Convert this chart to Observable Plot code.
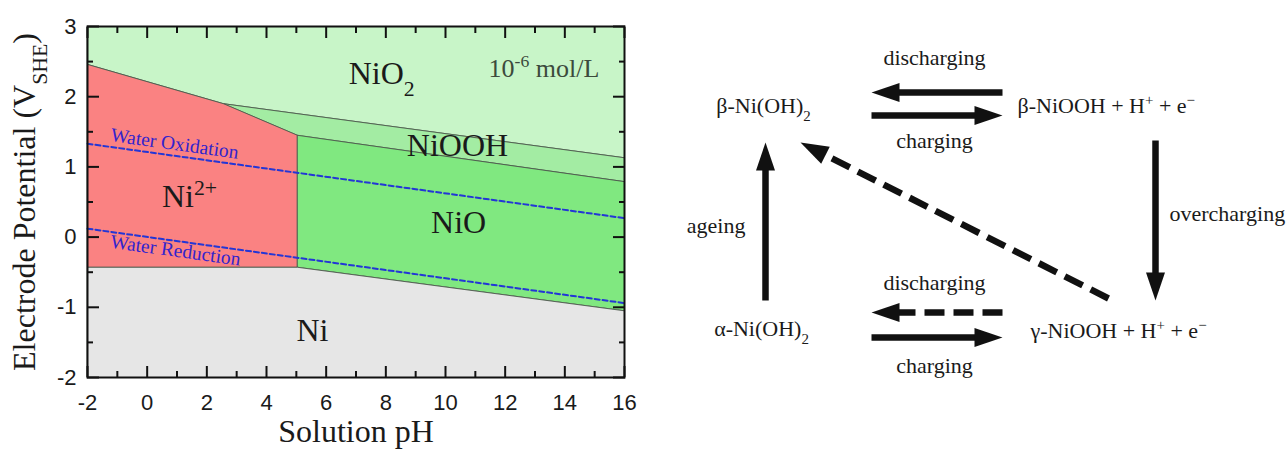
<!DOCTYPE html>
<html><head><meta charset="utf-8">
<script src="https://cdn.jsdelivr.net/npm/d3@7"></script>
<script src="https://cdn.jsdelivr.net/npm/@observablehq/plot@0.6"></script>
<style>
html,body{margin:0;padding:0;background:#fff;}
#wrap{display:flex;width:1287px;height:453px;overflow:hidden;}
#wrap svg{display:block;flex:none;}
</style></head><body><div id="wrap"></div>
<script>
// ---------- Pourbaix diagram data ----------
const phases = ["NiO2", "NiOOH", "Ni2+", "NiO", "Ni"];
const phaseColors = ["#c8f5c8", "#a3eca3", "#fa8282", "#80e880", "#e6e6e6"];
const phasePH = [[-2, 16, 16, 2.56, -2], [2.56, 16, 16, 5.04], [-2, 2.56, 5.04, 5.04, -2], [5.04, 16, 16, 5.04], [-2, 5.04, 16, 16, -2]];
const phaseE = [[3, 3, 1.13, 1.90, 2.46], [1.90, 1.13, 0.79, 1.45], [2.46, 1.90, 1.45, -0.43, -0.43], [1.45, 0.79, -1.05, -0.43], [-0.43, -0.43, -1.05, -2, -2]];
const phaseLabels = ["NiO_{2}", "NiOOH", "Ni^{2+}", "NiO", "Ni"];
const labelPH = [7.86, 10.40, 1.42, 10.44, 5.54];
const labelE = [2.32, 1.30, 0.58, 0.21, -1.34];
const waterPH = [-2, 16];
const waterOx = [1.33, 0.27];
const waterRed = [0.12, -0.94];
const waterNames = ["Water Oxidation", "Water Reduction"];
const waterLabelPH = [0.92, 0.95];
const waterLabelE = [1.33, -0.19];
const concLabel = ["10^{-6} mol/L"];
const concPH = [13.3];
const concE = [2.40];
const xMajor = [-2, 0, 2, 4, 6, 8, 10, 12, 14, 16];
const xMinor = [-1, 1, 3, 5, 7, 9, 11, 13, 15];
const yMajor = [-2, -1, 0, 1, 2, 3];
const yMinor = [-1.5, -0.5, 0.5, 1.5, 2.5];
const xTitle = "Solution pH";
const yTitle = "Electrode Potential (V_{SHE})";

// ---------- Cycle diagram data (diagram units) ----------
const nodeNames = ["β-Ni(OH)_{2}", "β-NiOOH + H^{+} + e^{−}", "α-Ni(OH)_{2}", "γ-NiOOH + H^{+} + e^{−}"];
const nodeX = [113, 367, 111, 380];
const nodeY = [105, 105, 328, 330];
const nodeAnchor = ["middle", "start", "middle", "start"];
const stepNames = ["discharging", "charging", "overcharging", "ageing", "discharging", "charging"];
const stepX = [284, 284, 519, 95, 284, 284];
const stepY = [57, 140, 213, 225, 282, 365];
const stepAnchor = ["middle", "middle", "start", "end", "middle", "middle"];
const arrowFromX = [352, 221, 505, 115, 458, 352, 221];
const arrowFromY = [92, 115, 140, 300, 298, 312, 337];
const arrowToX = [221, 352, 505, 115, 150, 221, 352];
const arrowToY = [92, 115, 300, 142, 142, 312, 337];
const arrowDashed = [false, false, false, false, true, true, false];

// ---------- helpers ----------
const serif = "'Liberation Serif','Times New Roman',serif";
const sans = "'Liberation Sans',Arial,sans-serif";

function richify(svg) {
  svg.querySelectorAll("text").forEach(t => {
    if (t.children.length) return;
    const s = t.textContent;
    if (!/[_^]\{/.test(s)) return;
    t.textContent = "";
    for (const part of s.split(/([_^]\{[^}]*\})/)) {
      if (!part) continue;
      const m = part.match(/^([_^])\{([^}]*)\}$/);
      const ts = document.createElementNS("http://www.w3.org/2000/svg", "tspan");
      ts.textContent = m ? m[2] : part;
      if (m) {
        ts.setAttribute("font-size", "68%");
        ts.setAttribute("baseline-shift", m[1] === "_" ? "sub" : "super");
      }
      t.appendChild(ts);
    }
  });
}

// ---------- left: Pourbaix diagram ----------
const W1 = 650, H = 453, mL = 87, mR = 26, mT = 26, mB = 76;
const pxPerPH = (W1 - mL - mR) / (xMajor[xMajor.length - 1] - xMajor[0]);
const pxPerV = (H - mT - mB) / (yMajor[yMajor.length - 1] - yMajor[0]);
const waterSlope = (waterOx[1] - waterOx[0]) / (waterPH[1] - waterPH[0]);
const waterAngle = Math.atan(-waterSlope * pxPerV / pxPerPH) * 180 / Math.PI;

const polyRows = phases.flatMap((p, i) => phasePH[i].map((x, j) => ({phase: p, ph: x, e: phaseE[i][j]})));
const waterRows = [waterOx, waterRed].flatMap((arr, k) => waterPH.map((x, j) => ({k, ph: x, e: arr[j]})));

const tickStyle = {stroke: "#111", strokeWidth: 2, fill: "none", label: null};

const left = Plot.plot({
  width: W1, height: H,
  marginLeft: mL, marginRight: mR, marginTop: mT, marginBottom: mB,
  x: {domain: [xMajor[0], xMajor[xMajor.length - 1]]},
  y: {domain: [yMajor[0], yMajor[yMajor.length - 1]]},
  style: {fontFamily: sans, fontSize: "22px", background: "white", color: "#1a1a1a", overflow: "visible"},
  marks: [
    ...phases.map((p, i) => Plot.line(polyRows.filter(d => d.phase === p), {
      x: "ph", y: "e", fill: phaseColors[i], stroke: "#4d5a4d", strokeWidth: 0.9, curve: "linear-closed"
    })),
    Plot.line(waterRows, {x: "ph", y: "e", z: "k", stroke: "#2336d6", strokeWidth: 2, strokeDasharray: "5,3"}),
    Plot.text(waterNames, {
      x: (d, i) => waterLabelPH[i], y: (d, i) => waterLabelE[i], text: d => d,
      rotate: waterAngle, fontFamily: serif, fontSize: 19.5, fill: "#3324cc"
    }),
    Plot.text(phaseLabels, {
      x: (d, i) => labelPH[i], y: (d, i) => labelE[i], text: d => d,
      fontFamily: serif, fontSize: 32, fill: "#1a1a1a"
    }),
    Plot.text(concLabel, {
      x: (d, i) => concPH[i], y: (d, i) => concE[i], text: d => d,
      fontFamily: serif, fontSize: 26, fill: "#3c4a3c"
    }),
    Plot.frame({stroke: "#111", strokeWidth: 2}),
    Plot.axisX({anchor: "bottom", ticks: xMajor, tickSize: -11, ...tickStyle}),
    Plot.axisX({anchor: "bottom", ticks: xMinor, tickSize: -6, ...tickStyle}),
    Plot.axisX({anchor: "top", ticks: xMajor, tickSize: -11, ...tickStyle}),
    Plot.axisX({anchor: "top", ticks: xMinor, tickSize: -6, ...tickStyle}),
    Plot.axisY({anchor: "left", ticks: yMajor, tickSize: -12, ...tickStyle}),
    Plot.axisY({anchor: "left", ticks: yMinor, tickSize: -6, ...tickStyle}),
    Plot.axisY({anchor: "right", ticks: yMajor, tickSize: -12, ...tickStyle}),
    Plot.axisY({anchor: "right", ticks: yMinor, tickSize: -6, ...tickStyle}),
    Plot.axisX({anchor: "bottom", ticks: xMajor, tickSize: 0, tickPadding: 17, tickFormat: d => String(d), label: null, fontSize: 22, fill: "#1a1a1a"}),
    Plot.axisY({anchor: "left", ticks: yMajor, tickSize: 0, tickPadding: 11, tickFormat: d => String(d), label: null, fontSize: 22, fill: "#1a1a1a"}),
    Plot.text([xTitle], {frameAnchor: "bottom", dy: 64, textAnchor: "middle", text: d => d, fontFamily: serif, fontSize: 32, fill: "#1a1a1a"}),
    Plot.text([yTitle], {frameAnchor: "left", dx: -63, rotate: -90, textAnchor: "middle", text: d => d, fontFamily: serif, fontSize: 32, fill: "#1a1a1a"})
  ]
});

// ---------- right: cycle diagram ----------
const W2 = 1287 - W1;
const headLen = 28, headHalf = 9.5;
const arrows = arrowFromX.map((x1, i) => {
  const y1 = arrowFromY[i], x2 = arrowToX[i], y2 = arrowToY[i];
  const L = Math.hypot(x2 - x1, y2 - y1);
  const ux = (x2 - x1) / L, uy = (y2 - y1) / L;
  return {i, x1, y1, x2, y2, ux, uy, bx: x2 - ux * headLen, by: y2 - uy * headLen, dashed: arrowDashed[i]};
});
const headRows = arrows.flatMap(a => [
  {id: a.i, x: a.x2, y: a.y2},
  {id: a.i, x: a.bx - a.uy * headHalf, y: a.by + a.ux * headHalf},
  {id: a.i, x: a.bx + a.uy * headHalf, y: a.by - a.ux * headHalf}
]);
const shaft = {x1: "x1", y1: "y1", x2: a => a.bx + a.ux, y2: a => a.by + a.uy, stroke: "#111", strokeWidth: 6.5};
const nodeIdx = nodeNames.map((d, i) => i);
const stepIdx = stepNames.map((d, i) => i);

const right = Plot.plot({
  width: W2, height: H, margin: 0,
  x: {domain: [0, W2], range: [0, W2], axis: null},
  y: {domain: [0, H], range: [0, H], axis: null},
  style: {fontFamily: serif, background: "white", color: "#1a1a1a", overflow: "visible"},
  marks: [
    Plot.link(arrows.filter(a => !a.dashed), shaft),
    Plot.link(arrows.filter(a => a.dashed), {...shaft, strokeDasharray: "20,9"}),
    Plot.line(headRows, {x: "x", y: "y", z: "id", fill: "#111", stroke: "none", curve: "linear-closed"}),
    ...["middle", "start"].map(anchor => Plot.text(nodeIdx.filter(i => nodeAnchor[i] === anchor), {
      x: i => nodeX[i], y: i => nodeY[i], text: i => nodeNames[i],
      textAnchor: anchor, fontFamily: serif, fontSize: 22, fill: "#1a1a1a"
    })),
    ...["middle", "start", "end"].map(anchor => Plot.text(stepIdx.filter(i => stepAnchor[i] === anchor), {
      x: i => stepX[i], y: i => stepY[i], text: i => stepNames[i],
      textAnchor: anchor, fontFamily: serif, fontSize: 22, fill: "#1a1a1a"
    }))
  ]
});

richify(left);
richify(right);
const wrap = document.getElementById("wrap");
wrap.appendChild(left);
wrap.appendChild(right);
</script>
</body></html>
